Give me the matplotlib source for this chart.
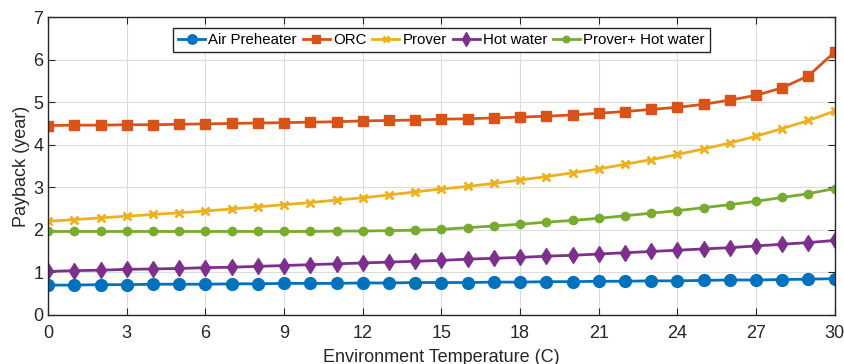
import numpy as np
import matplotlib.pyplot as plt

plt.rcParams['font.family'] = ['Liberation Sans', 'DejaVu Sans']

# Environment temperature (C)
temp = np.arange(0, 31)

# Payback (year)
air_preheater = [0.70, 0.70, 0.71, 0.71, 0.72, 0.72, 0.72, 0.73, 0.73, 0.74, 0.74,
                 0.74, 0.75, 0.75, 0.76, 0.76, 0.76, 0.77, 0.77, 0.78, 0.78,
                 0.79, 0.79, 0.80, 0.80, 0.81, 0.82, 0.82, 0.83, 0.84, 0.85]
orc = [4.45, 4.46, 4.46, 4.47, 4.47, 4.48, 4.49, 4.50, 4.51, 4.52, 4.53,
       4.54, 4.56, 4.57, 4.58, 4.60, 4.61, 4.63, 4.65, 4.67, 4.70,
       4.74, 4.78, 4.83, 4.88, 4.95, 5.05, 5.16, 5.34, 5.62, 6.18]
prover = [2.20, 2.24, 2.28, 2.32, 2.36, 2.40, 2.44, 2.49, 2.54, 2.59, 2.64,
          2.70, 2.75, 2.82, 2.89, 2.96, 3.02, 3.09, 3.17, 3.25, 3.34,
          3.43, 3.54, 3.65, 3.77, 3.90, 4.04, 4.20, 4.38, 4.57, 4.79]
hot_water = [1.02, 1.04, 1.05, 1.07, 1.08, 1.09, 1.11, 1.12, 1.14, 1.16, 1.18,
             1.20, 1.22, 1.24, 1.26, 1.28, 1.31, 1.33, 1.35, 1.38, 1.40,
             1.43, 1.46, 1.49, 1.52, 1.55, 1.58, 1.62, 1.66, 1.70, 1.75]
prover_hw = [1.96, 1.96, 1.96, 1.96, 1.96, 1.96, 1.96, 1.96, 1.96, 1.96, 1.96,
             1.97, 1.97, 1.98, 1.99, 2.01, 2.05, 2.09, 2.13, 2.18, 2.22,
             2.27, 2.33, 2.39, 2.45, 2.52, 2.59, 2.67, 2.76, 2.85, 2.97]

fig = plt.figure(figsize=(8.44, 3.64), dpi=100)
ax = fig.add_axes([0.057, 0.135, 0.932, 0.818])

ax.plot(temp, air_preheater, '-o', color='#0072BD', lw=2, ms=8.5, label='Air Preheater')
ax.plot(temp, orc, '-s', color='#D95319', lw=2, ms=7.5, label='ORC')
ax.plot(temp, prover, '-x', color='#EDB120', lw=2, ms=6, mew=2, label='Prover')
ax.plot(temp, hot_water, '-d', color='#7E2F8E', lw=2, ms=8.5, label='Hot water')
ax.plot(temp, prover_hw, '-o', color='#77AC30', lw=2, ms=6, label='Prover+ Hot water')

ax.set_xlim(0, 30)
ax.set_ylim(0, 7)
ax.set_xticks(np.arange(0, 31, 3))
ax.set_yticks(np.arange(0, 8, 1))
ax.grid(True, color='#dcdcdc', lw=0.8)
ax.tick_params(direction='in', top=True, right=True, labelsize=13, length=5,
               colors='#262626')
ax.tick_params(axis='x', pad=7)
for s in ax.spines.values():
    s.set_color('#262626')
    s.set_linewidth(1)

ax.set_xlabel('Environment Temperature (C)', fontsize=13, color='#262626', labelpad=5)
ax.set_ylabel('Payback (year)', fontsize=13, color='#262626', labelpad=2)

leg = ax.legend(loc='upper center', ncol=5, fontsize=10.8, handlelength=1.8,
                handletextpad=0.2, columnspacing=0.4, borderpad=0.35,
                bbox_to_anchor=(0.5, 0.99), fancybox=False, framealpha=1,
                edgecolor='#262626', markerscale=0.8)
leg.get_frame().set_linewidth(1)

fig.savefig('out.png', dpi=100)
